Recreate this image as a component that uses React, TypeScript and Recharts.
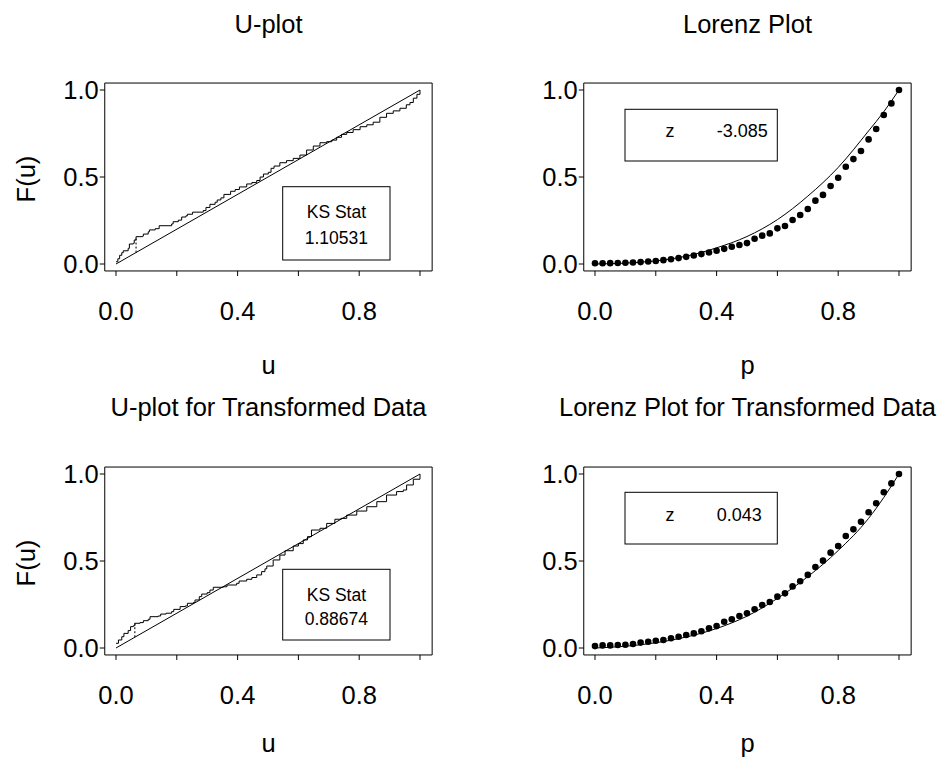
import React from "react";
import {
	ComposedChart,
	Line,
	Scatter,
	XAxis,
	YAxis,
	ReferenceArea,
	ReferenceLine,
} from "recharts";

const FONT = '"Liberation Sans", Arial, Helvetica, sans-serif';

// axis ticks (only every other x tick gets a label)
const xTicks = [0, 0.2, 0.4, 0.6, 0.8, 1.0];
const xLabelled = [0, 0.4, 0.8];
const yTicks = [0, 0.5, 1.0];

// reference line F(u) = u
const diagU = [0, 1];
const diagF = [0, 1];

// U-plot, raw data (step corners of the empirical cdf)
const uRaw = [
	0, 0.006, 0.012, 0.019, 0.024, 0.04, 0.044, 0.057, 0.06, 0.066, 0.088, 0.09,
	0.106, 0.11, 0.129, 0.142, 0.183, 0.188, 0.205, 0.216, 0.23, 0.235, 0.252,
	0.287, 0.296, 0.309, 0.326, 0.333, 0.345, 0.355, 0.377, 0.392, 0.406, 0.43,
	0.447, 0.463, 0.474, 0.485, 0.501, 0.51, 0.52, 0.539, 0.561, 0.583, 0.605,
	0.627, 0.649, 0.671, 0.693, 0.71, 0.726, 0.742, 0.759, 0.78, 0.803, 0.825,
	0.846, 0.868, 0.89, 0.912, 0.934, 0.955, 0.967, 0.978, 0.99, 1.0,
];
const fRaw = [
	0.013, 0.03, 0.05, 0.065, 0.076, 0.09, 0.115, 0.119, 0.138, 0.157, 0.161,
	0.172, 0.185, 0.196, 0.203, 0.22, 0.23, 0.243, 0.252, 0.27, 0.277, 0.286,
	0.298, 0.307, 0.325, 0.343, 0.355, 0.368, 0.38, 0.4, 0.418, 0.428, 0.443,
	0.46, 0.468, 0.48, 0.5, 0.517, 0.527, 0.55, 0.563, 0.582, 0.594, 0.607,
	0.626, 0.655, 0.678, 0.697, 0.703, 0.712, 0.728, 0.745, 0.756, 0.772, 0.789,
	0.8, 0.815, 0.843, 0.866, 0.88, 0.895, 0.915, 0.928, 0.953, 0.975, 1.0,
];
// dotted KS gap
const ksRawU = 0.066;
const ksRawF = [0.066, 0.157];

// U-plot, transformed data
const uTrans = [
	0, 0.008, 0.019, 0.026, 0.04, 0.048, 0.057, 0.062, 0.079, 0.09, 0.106, 0.112,
	0.139, 0.147, 0.165, 0.183, 0.19, 0.211, 0.228, 0.235, 0.255, 0.26, 0.274,
	0.282, 0.3, 0.309, 0.32, 0.353, 0.365, 0.397, 0.405, 0.43, 0.447, 0.463,
	0.479, 0.49, 0.496, 0.517, 0.539, 0.556, 0.583, 0.6, 0.616, 0.63, 0.643,
	0.671, 0.693, 0.72, 0.74, 0.759, 0.792, 0.825, 0.858, 0.89, 0.923, 0.945,
	0.956, 0.978, 1.0,
];
const fTrans = [
	0.027, 0.046, 0.065, 0.084, 0.1, 0.123, 0.128, 0.142, 0.146, 0.157, 0.165,
	0.18, 0.184, 0.195, 0.2, 0.209, 0.222, 0.238, 0.242, 0.257, 0.262, 0.276,
	0.295, 0.31, 0.318, 0.333, 0.349, 0.352, 0.362, 0.372, 0.385, 0.395, 0.405,
	0.42, 0.439, 0.455, 0.471, 0.506, 0.534, 0.559, 0.586, 0.6, 0.621, 0.64,
	0.678, 0.688, 0.716, 0.74, 0.745, 0.764, 0.787, 0.812, 0.841, 0.879, 0.899,
	0.908, 0.937, 0.97, 1.0,
];
const ksTransU = 0.062;
const ksTransF = [0.062, 0.142];

// Lorenz plots: sample points
const pGrid = [
	0, 0.025, 0.05, 0.075, 0.1, 0.125, 0.15, 0.175, 0.2, 0.225, 0.25, 0.275, 0.3,
	0.325, 0.35, 0.375, 0.4, 0.425, 0.45, 0.475, 0.5, 0.525, 0.55, 0.575, 0.6,
	0.625, 0.65, 0.675, 0.7, 0.725, 0.75, 0.775, 0.8, 0.825, 0.85, 0.875, 0.9,
	0.925, 0.95, 0.975, 1.0,
];
const lorenzRaw = [
	0.004, 0.004, 0.005, 0.006, 0.007, 0.009, 0.011, 0.014, 0.017, 0.022, 0.027,
	0.034, 0.041, 0.049, 0.057, 0.066, 0.076, 0.087, 0.099, 0.109, 0.12, 0.145,
	0.163, 0.176, 0.205, 0.218, 0.253, 0.282, 0.316, 0.364, 0.397, 0.448, 0.496,
	0.559, 0.603, 0.649, 0.716, 0.776, 0.856, 0.923, 1.0,
];
const lorenzTrans = [
	0.011, 0.015, 0.015, 0.017, 0.019, 0.023, 0.031, 0.036, 0.042, 0.046, 0.056,
	0.065, 0.075, 0.084, 0.096, 0.113, 0.126, 0.151, 0.165, 0.184, 0.2, 0.223,
	0.247, 0.264, 0.295, 0.314, 0.354, 0.384, 0.42, 0.465, 0.502, 0.548, 0.586,
	0.644, 0.682, 0.726, 0.78, 0.832, 0.895, 0.946, 1.0,
];

// fitted Lorenz curves
const curveP = [0, 0.1, 0.2, 0.3, 0.4, 0.5, 0.6, 0.7, 0.8, 0.9, 0.95, 1.0];
const curveRaw = [0, 0.005, 0.018, 0.045, 0.093, 0.158, 0.255, 0.39, 0.555, 0.765, 0.875, 1.0];
const curveTrans = [0, 0.01, 0.03, 0.063, 0.112, 0.183, 0.285, 0.41, 0.56, 0.745, 0.865, 1.0];

const toXY = (xs: number[], ys: number[]) => xs.map((x, i) => ({ x, y: ys[i] }));

const X_DOMAIN: [number, number] = [-0.037, 1.04];
const Y_DOMAIN: [number, number] = [-0.04, 1.04];

function Dot(props: any) {
	return <circle cx={props.cx} cy={props.cy} r={3.3} fill="#000" />;
}

function Panel({ left, top, children }: { left: number; top: number; children: React.ReactNode }) {
	return (
		<div style={{ position: "absolute", left, top }}>
			<ComposedChart
				width={469}
				height={370}
				margin={{ top: 83.04, right: 36.85, bottom: 39.04, left: 34.75 }}
			>
				<XAxis
					type="number"
					dataKey="x"
					domain={X_DOMAIN}
					ticks={xTicks}
					allowDataOverflow
					axisLine={false}
					tickLine={{ stroke: "#000" }}
					tickSize={5}
					tickMargin={26}
					height={60}
					interval={0}
					tick={{ fill: "#000", fontSize: 25.5, fontFamily: FONT }}
					tickFormatter={(v: number) => (xLabelled.includes(v) ? v.toFixed(1) : "")}
				/>
				<YAxis
					type="number"
					dataKey="y"
					domain={Y_DOMAIN}
					ticks={yTicks}
					allowDataOverflow
					axisLine={false}
					tickLine={{ stroke: "#000" }}
					tickSize={5}
					tickMargin={1}
					width={70}
					interval={0}
					tick={{ fill: "#000", fontSize: 25.5, fontFamily: FONT }}
					tickFormatter={(v: number) => v.toFixed(1)}
				/>
				<ReferenceArea
					x1={X_DOMAIN[0]}
					x2={X_DOMAIN[1]}
					y1={Y_DOMAIN[0]}
					y2={Y_DOMAIN[1]}
					fill="none"
					stroke="#000"
					strokeWidth={1}
				/>
				{children}
			</ComposedChart>
		</div>
	);
}

function UPlot({ left, top, us, fs, ksU, ksF }: any) {
	return (
		<Panel left={left} top={top}>
			<Line
				data={toXY(diagU, diagF)}
				dataKey="y"
				type="linear"
				stroke="#000"
				strokeWidth={1}
				dot={false}
				activeDot={false}
				isAnimationActive={false}
			/>
			<Line
				data={toXY(us, fs)}
				dataKey="y"
				type="stepAfter"
				stroke="#000"
				strokeWidth={1}
				dot={false}
				activeDot={false}
				isAnimationActive={false}
			/>
			<ReferenceLine
				segment={[
					{ x: ksU, y: ksF[0] },
					{ x: ksU, y: ksF[1] },
				]}
				stroke="#000"
				strokeWidth={1}
				strokeDasharray="2 2"
			/>
		</Panel>
	);
}

function LorenzPlot({ left, top, dots, curve }: any) {
	return (
		<Panel left={left} top={top}>
			<Line
				data={toXY(curveP, curve)}
				dataKey="y"
				type="monotone"
				stroke="#000"
				strokeWidth={1}
				dot={false}
				activeDot={false}
				isAnimationActive={false}
			/>
			<Scatter
				data={toXY(pGrid, dots)}
				dataKey="y"
				shape={Dot}
				isAnimationActive={false}
			/>
		</Panel>
	);
}

const txt = { fontFamily: FONT, fill: "#000" };

export default function App() {
	return (
		<div
			style={{
				position: "absolute",
				left: 0,
				top: 0,
				width: 948,
				height: 759,
				overflow: "hidden",
				background: "#fff",
			}}
		>
			<UPlot left={0} top={0} us={uRaw} fs={fRaw} ksU={ksRawU} ksF={ksRawF} />
			<LorenzPlot left={479} top={0} dots={lorenzRaw} curve={curveRaw} />
			<UPlot left={0} top={384} us={uTrans} fs={fTrans} ksU={ksTransU} ksF={ksTransF} />
			<LorenzPlot left={479} top={384} dots={lorenzTrans} curve={curveTrans} />

			<svg
				width={948}
				height={759}
				style={{ position: "absolute", left: 0, top: 0, pointerEvents: "none" }}
			>
				{/* titles */}
				<g {...txt} fontSize={25.5} textAnchor="middle">
					<text x={268.5} y={33}>U-plot</text>
					<text x={747.5} y={33}>Lorenz Plot</text>
					<text x={268.5} y={416}>U-plot for Transformed Data</text>
					<text x={747.5} y={416}>Lorenz Plot for Transformed Data</text>
					{/* axis labels */}
					<text x={268.5} y={373.5}>u</text>
					<text x={747.5} y={373.5}>p</text>
					<text x={268.5} y={752}>u</text>
					<text x={747.5} y={752}>p</text>
					<text transform="translate(35,179) rotate(-90)">F(u)</text>
					<text transform="translate(35,563) rotate(-90)">F(u)</text>
				</g>

				{/* KS stat boxes */}
				<rect x={282.7} y={186.7} width={107.3} height={73.3} fill="#fff" stroke="#000" />
				<rect x={282.7} y={569.3} width={107.3} height={70.7} fill="#fff" stroke="#000" />
				<g {...txt} fontSize={17.5} textAnchor="middle">
					<text x={336.4} y={218.3}>KS Stat</text>
					<text x={336.4} y={244}>1.10531</text>
					<text x={336.4} y={600.7}>KS Stat</text>
					<text x={336.4} y={625}>0.88674</text>
				</g>

				{/* z boxes */}
				<rect x={625} y={109.3} width={152.3} height={51.7} fill="#fff" stroke="#000" />
				<rect x={625} y={492.3} width={152.3} height={51.7} fill="#fff" stroke="#000" />
				<g {...txt} fontSize={18}>
					<text x={670} y={137} textAnchor="middle">z</text>
					<text x={716.7} y={137}>-3.085</text>
					<text x={670} y={520.5} textAnchor="middle">z</text>
					<text x={716.7} y={520.5}>0.043</text>
				</g>
			</svg>
		</div>
	);
}
